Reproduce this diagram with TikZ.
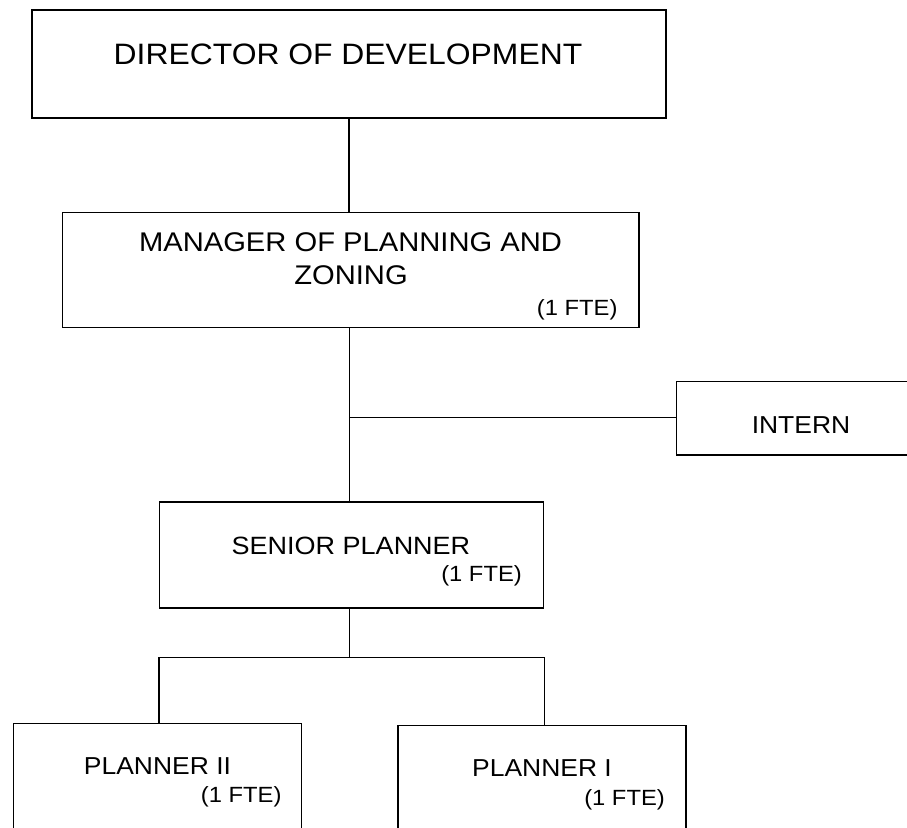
\documentclass[tikz,border=0pt]{standalone}
\usepackage{fontspec}
\setmainfont[FakeStretch=1.08]{Liberation Sans}
\begin{document}
\begin{tikzpicture}[x=1pt,y=-1pt,
  box/.style={draw=black,line width=1.6pt,rectangle,inner sep=0pt,fill=white},
  conn/.style={draw=black,line width=1.6pt},
  big/.style={font=\fontsize{29.5}{35}\selectfont,inner sep=0pt},
  mid/.style={font=\fontsize{27}{32}\selectfont,inner sep=0pt},
  std/.style={font=\fontsize{25}{30}\selectfont,inner sep=0pt},
  sml/.style={font=\fontsize{24.5}{29}\selectfont,inner sep=0pt},
  fte/.style={font=\fontsize{22}{26}\selectfont,inner sep=0pt,anchor=base east}]
\useasboundingbox (0,0) rectangle (907,827);
\clip (0,0) rectangle (907,827);
\fill[white] (0,0) rectangle (907,827);
% boxes
\node[box,minimum width=634pt,minimum height=108pt] (dir) at (349,64) {};
\node[box,minimum width=576.5pt,minimum height=115pt] (man) at (350.75,270) {};
\node[box,minimum width=300pt,minimum height=73.3pt,anchor=west] (intern) at (675.5,418.3) {};
\node[box,minimum width=384pt,minimum height=106pt] (sen) at (351.65,554.7) {};
\node[box,minimum width=288pt,minimum height=160pt,anchor=north] (p2) at (157.3,722.7) {};
\node[box,minimum width=288pt,minimum height=160pt,anchor=north] (p1) at (542,724.7) {};
% texts
\node[big,anchor=base] (tdir) at (348,64) {DIRECTOR OF DEVELOPMENT};
\node[mid,anchor=base] (tman1) at (350.5,251.7) {MANAGER OF PLANNING AND};
\node[mid,anchor=base] (tman2) at (351,284.3) {ZONING};
\node[fte] (fman) at (617.7,315) {(1 FTE)};
\node[sml,anchor=base] (tint) at (801,433.3) {INTERN};
\node[std,anchor=base] (tsen) at (351,554) {SENIOR PLANNER};
\node[fte] (fsen) at (522,581.7) {(1 FTE)};
\node[sml,anchor=base] (tp2) at (157.5,774) {PLANNER II};
\node[fte] (fp2) at (281.7,802.5) {(1 FTE)};
\node[sml,anchor=base] (tp1) at (542,776) {PLANNER I};
\node[fte] (fp1) at (665,805) {(1 FTE)};
% connectors
\coordinate (j1) at (349.5,417.3);
\coordinate (j2) at (349.5,657.3);
\draw[conn] (dir.south) -- (dir.south |- man.north);
\draw[conn] (j1 |- man.south) -- (j1 |- sen.north);
\draw[conn] (j1) -- (j1 -| intern.west);
\draw[conn] (j2 |- sen.south) -- (j2);
\draw[conn] (sen.west |- p2.north) -- (sen.west |- j2) -- (sen.east |- j2) -- (sen.east |- p1.north);
\end{tikzpicture}
\end{document}
